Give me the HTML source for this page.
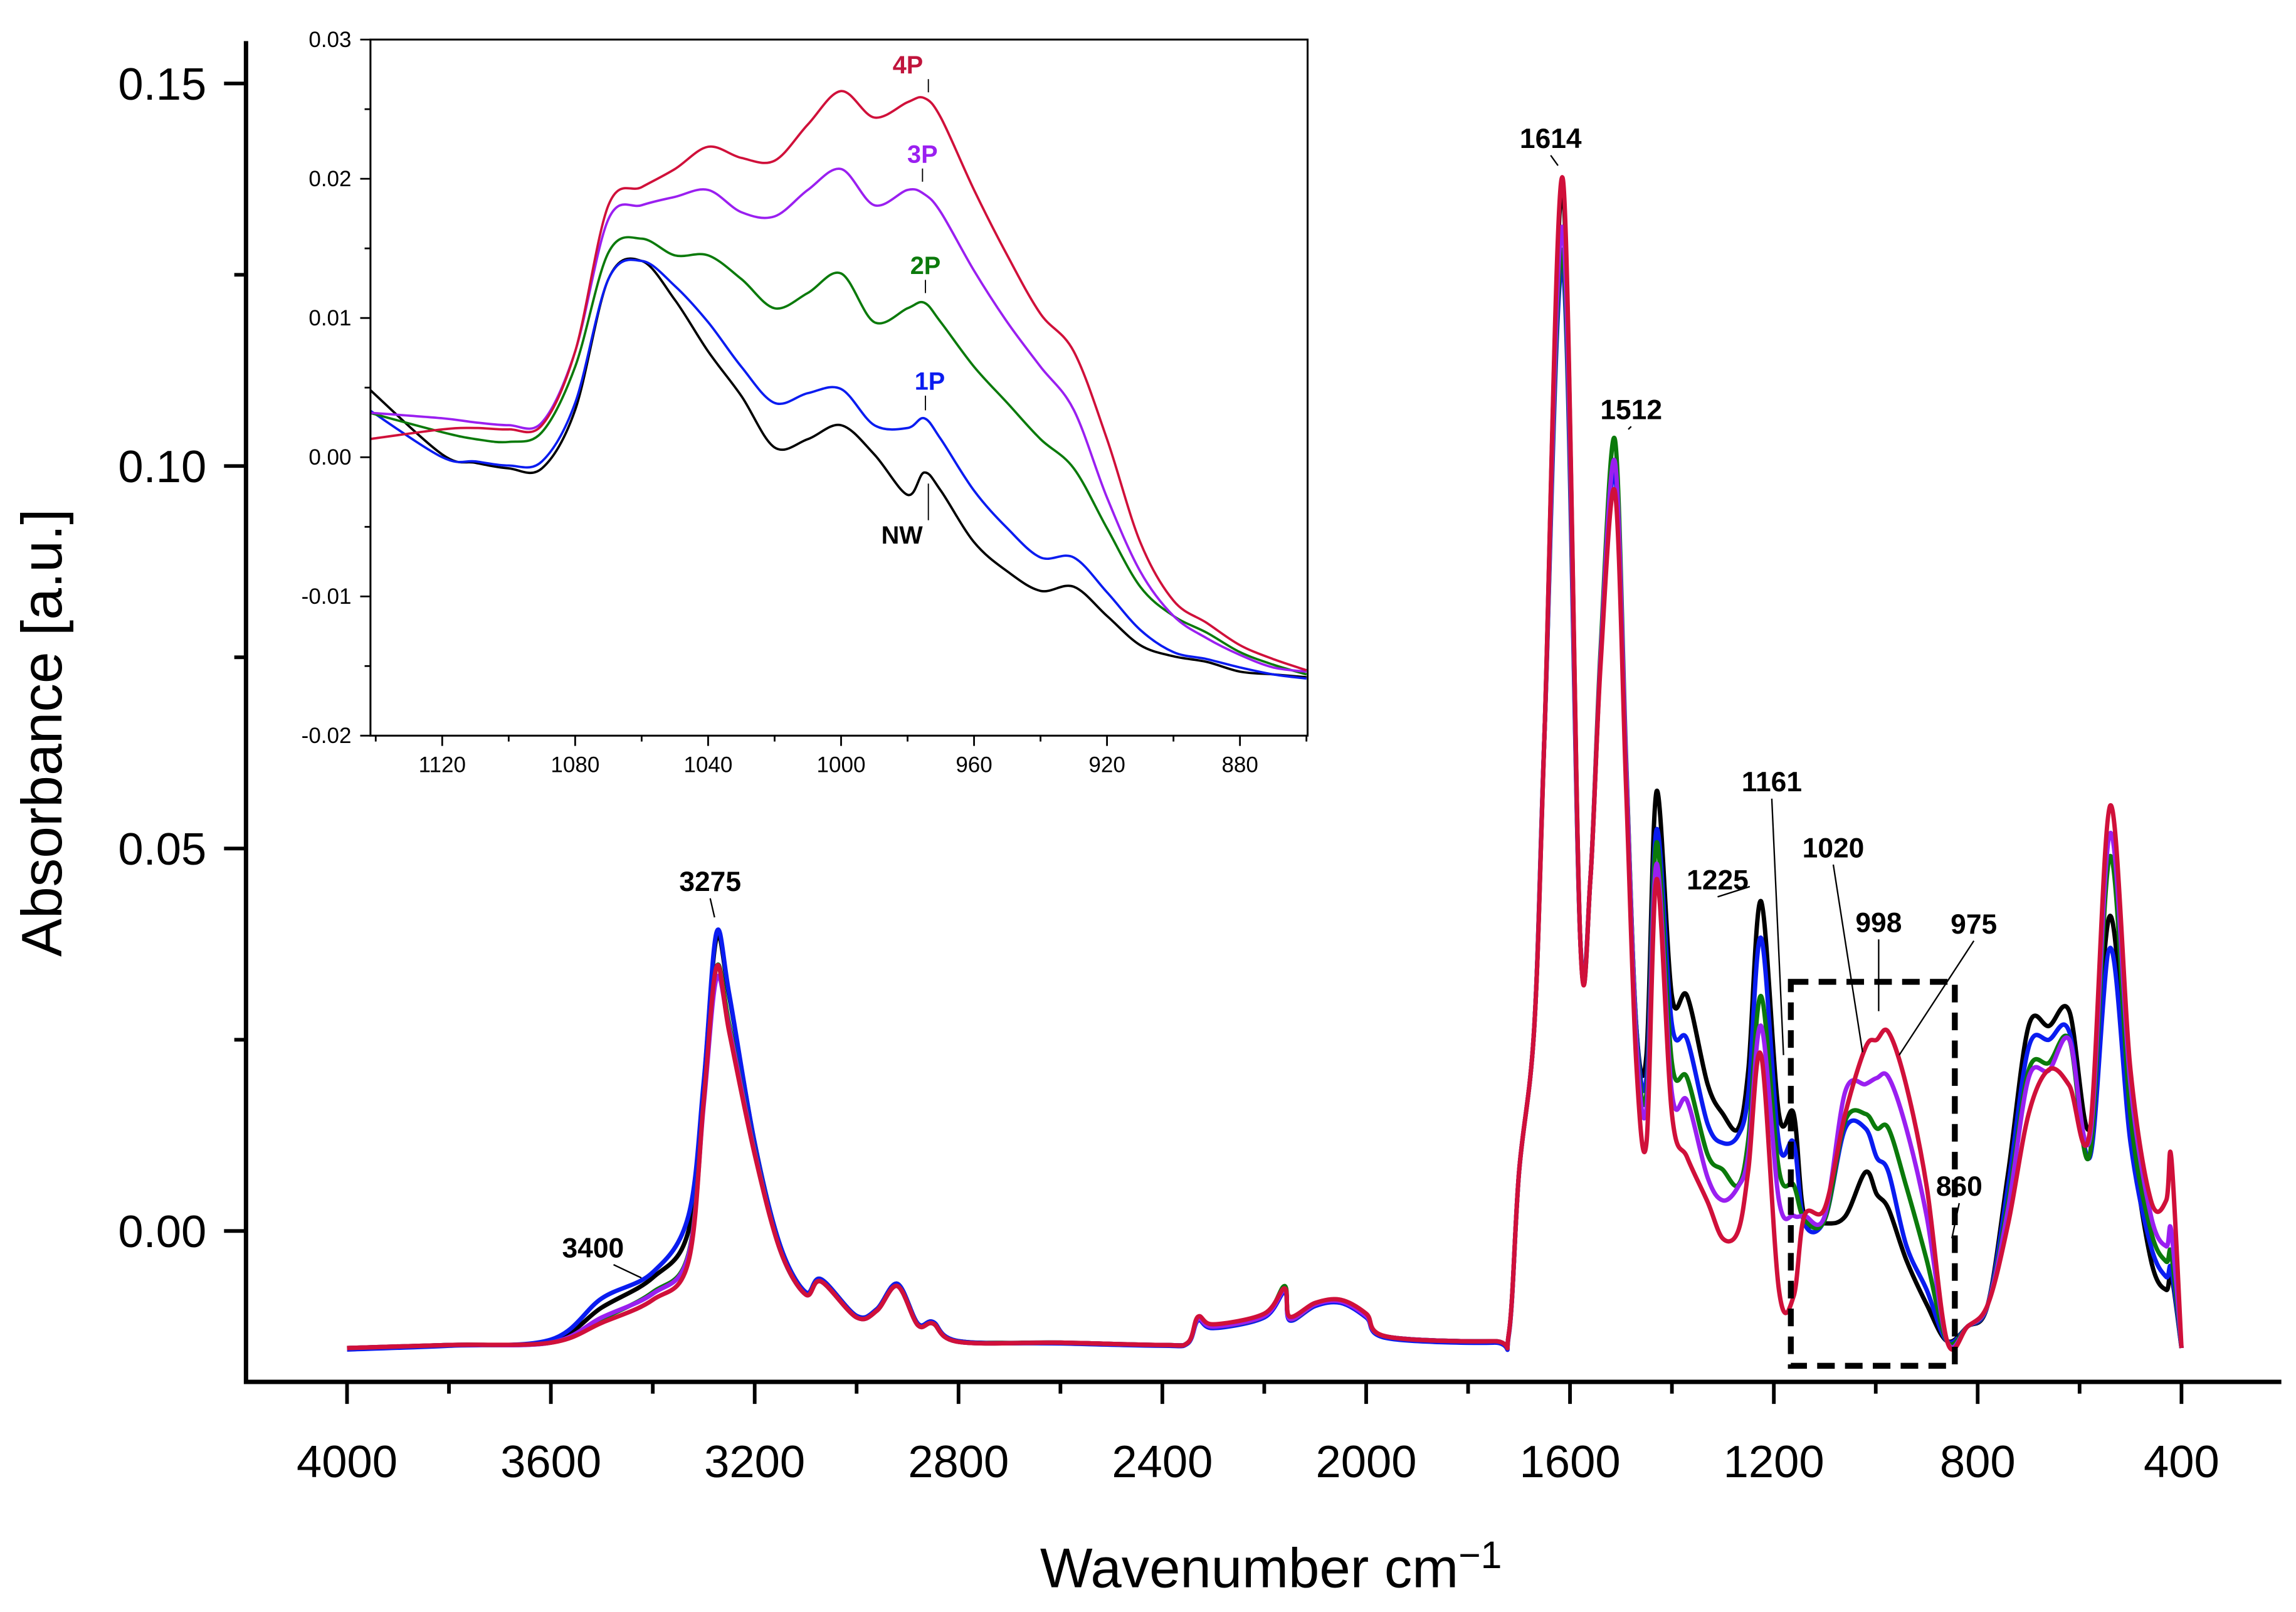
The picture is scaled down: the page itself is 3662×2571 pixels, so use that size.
<!DOCTYPE html>
<html><head><meta charset="utf-8"><style>
html,body{margin:0;padding:0;background:#fff}
svg{display:block;font-family:"Liberation Sans",Arial,sans-serif}
</style></head><body>
<svg id="chart" width="3662" height="2571" viewBox="0 0 1568 1100" preserveAspectRatio="none" xmlns="http://www.w3.org/2000/svg">
<rect x="0" y="0" width="1568" height="1100" fill="#fff"/>
<g id="main"></g>
<g id="inset"></g>
</svg>
<script>
const NS="http://www.w3.org/2000/svg";
// ---- main chart data ----
const wn=[4000,3800,3600,3500,3400,3330,3300,3275,3250,3200,3150,3100,3070,3000,2960,2920,2880,2850,2800,2600,2400,2350,2330,2300,2200,2160,2150,2100,2050,2000,1960,1750,1720,1700,1670,1650,1614,1580,1560,1540,1512,1490,1470,1450,1430,1400,1370,1330,1300,1270,1250,1225,1190,1161,1140,1100,1060,1020,998,975,940,900,860,820,780,740,700,660,620,580,540,500,460,430,420,400];
const nwVals=[-0.0153,-0.0149,-0.0144,-0.0100,-0.0061,0,0.0192,0.0383,0.0307,0.0115,-0.0019,-0.0080,-0.0063,-0.0111,-0.0102,-0.0069,-0.0121,-0.0119,-0.0144,-0.0146,-0.0149,-0.0146,-0.0115,-0.0125,-0.0111,-0.0077,-0.0115,-0.0096,-0.0092,-0.0111,-0.0138,-0.0144,-0.0134,0.0077,0.0268,0.0651,0.1360,0.0383,0.0460,0.0747,0.0996,0.0613,0.0268,0.0230,0.0575,0.0307,0.0307,0.0192,0.0153,0.0134,0.0211,0.0431,0.0153,0.0153,0.0019,0.0010,0.0019,0.0077,0.0048,0.0029,-0.0038,-0.0096,-0.0144,-0.0125,-0.0096,0.0077,0.0268,0.0268,0.0287,0.0134,0.0412,0.0134,-0.0038,-0.0077,-0.0057,-0.0153];
const p1Vals=[-0.0155,-0.0150,-0.0142,-0.0088,-0.0054,0.0020,0.0195,0.0390,0.0310,0.0115,-0.0019,-0.0080,-0.0063,-0.0111,-0.0102,-0.0069,-0.0121,-0.0119,-0.0144,-0.0147,-0.0150,-0.0147,-0.0117,-0.0127,-0.0113,-0.0080,-0.0117,-0.0098,-0.0094,-0.0113,-0.0140,-0.0146,-0.0136,0.0077,0.0268,0.0651,0.1260,0.0383,0.0460,0.0747,0.0990,0.0600,0.0268,0.0200,0.0525,0.0270,0.0250,0.0140,0.0115,0.0125,0.0180,0.0383,0.0115,0.0115,0.0010,0.0015,0.0134,0.0134,0.0096,0.0077,-0.0019,-0.0077,-0.0144,-0.0125,-0.0096,0.0060,0.0240,0.0250,0.0260,0.0096,0.0370,0.0115,-0.0020,-0.0060,-0.0050,-0.0153];
const p2Vals=[-0.0153,-0.0149,-0.0146,-0.0115,-0.0080,-0.0030,0.0170,0.0345,0.0270,0.0105,-0.0025,-0.0083,-0.0066,-0.0113,-0.0104,-0.0072,-0.0123,-0.0121,-0.0145,-0.0146,-0.0149,-0.0146,-0.0115,-0.0125,-0.0111,-0.0072,-0.0115,-0.0096,-0.0090,-0.0111,-0.0138,-0.0144,-0.0134,0.0077,0.0268,0.0651,0.1280,0.0383,0.0460,0.0760,0.1035,0.0620,0.0260,0.0180,0.0508,0.0220,0.0200,0.0100,0.0080,0.0060,0.0120,0.0307,0.0080,0.0060,0.0015,0.0015,0.0144,0.0153,0.0134,0.0134,0.0058,-0.0038,-0.0144,-0.0125,-0.0096,0.0040,0.0210,0.0220,0.0250,0.0100,0.0490,0.0150,0.0000,-0.0040,-0.0030,-0.0153];
const p3Vals=[-0.0153,-0.0149,-0.0146,-0.0113,-0.0082,-0.0032,0.0165,0.0330,0.0265,0.0103,-0.0025,-0.0083,-0.0066,-0.0113,-0.0104,-0.0072,-0.0123,-0.0121,-0.0145,-0.0146,-0.0149,-0.0146,-0.0115,-0.0125,-0.0111,-0.0077,-0.0115,-0.0096,-0.0092,-0.0111,-0.0138,-0.0144,-0.0134,0.0077,0.0268,0.0651,0.1310,0.0383,0.0460,0.0750,0.1006,0.0610,0.0250,0.0160,0.0480,0.0180,0.0170,0.0070,0.0040,0.0058,0.0100,0.0268,0.0040,0.0020,0.0020,0.0020,0.0182,0.0192,0.0200,0.0201,0.0134,0.0019,-0.0144,-0.0125,-0.0096,0.0030,0.0200,0.0210,0.0250,0.0120,0.0520,0.0190,0.0020,-0.0020,0.0000,-0.0153];
const p4Vals=[-0.0153,-0.0149,-0.0146,-0.0120,-0.0090,-0.0040,0.0170,0.0345,0.0260,0.0100,-0.0025,-0.0083,-0.0066,-0.0113,-0.0104,-0.0072,-0.0123,-0.0121,-0.0145,-0.0146,-0.0149,-0.0146,-0.0112,-0.0122,-0.0108,-0.0075,-0.0112,-0.0094,-0.0090,-0.0108,-0.0138,-0.0144,-0.0134,0.0077,0.0268,0.0651,0.1375,0.0383,0.0460,0.0740,0.0967,0.0580,0.0220,0.0115,0.0460,0.0153,0.0096,0.0038,-0.0010,0.0000,0.0080,0.0230,-0.0077,-0.0085,0.0020,0.0030,0.0153,0.0240,0.0250,0.0260,0.0190,0.0058,-0.0144,-0.0125,-0.0096,0.0010,0.0153,0.0211,0.0190,0.0130,0.0556,0.0210,0.0040,0.0040,0.0096,-0.0153];
const xTicks=[4000,3600,3200,2800,2400,2000,1600,1200,800,400];
const yTicks=[0.15,0.10,0.05,0.00];
const yTickLabels=["0.15","0.10","0.05","0.00"];
// ---- inset data ----
const iwn=[1142,1120,1110,1100,1090,1080,1070,1060,1050,1040,1030,1020,1010,1000,990,980,975,970,960,950,940,930,920,910,900,890,880,870,860];
const iNW=[0.0049,0.0002,-0.0004,-0.0008,-0.0008,0.0034,0.0128,0.0141,0.0113,0.0076,0.0044,0.0007,0.0013,0.0023,0.0002,-0.0027,-0.0011,-0.0024,-0.0061,-0.0082,-0.0096,-0.0093,-0.0114,-0.0135,-0.0143,-0.0147,-0.0154,-0.0156,-0.0158];
const i1P=[0.0034,0,-0.0003,-0.0006,-0.0003,0.0039,0.0128,0.0141,0.0123,0.0097,0.0065,0.0039,0.0046,0.0049,0.0023,0.0021,0.0028,0.0013,-0.0024,-0.0051,-0.0072,-0.0072,-0.0097,-0.0124,-0.0140,-0.0145,-0.0151,-0.0156,-0.0159];
const i2P=[0.0032,0.0018,0.0013,0.0011,0.0018,0.0065,0.0147,0.0157,0.0145,0.0145,0.0128,0.0107,0.0118,0.0132,0.0097,0.0107,0.0111,0.0097,0.0065,0.0039,0.0013,-0.0008,-0.0051,-0.0093,-0.0114,-0.0126,-0.0140,-0.0149,-0.0156];
const i3P=[0.0032,0.0028,0.0025,0.0023,0.0025,0.0076,0.0171,0.0181,0.0187,0.0192,0.0176,0.0173,0.0192,0.0207,0.0181,0.0192,0.0189,0.0176,0.0134,0.0097,0.0065,0.0034,-0.0029,-0.0082,-0.0114,-0.0130,-0.0142,-0.0151,-0.0154];
const i4P=[0.0013,0.0020,0.0021,0.0020,0.0023,0.0076,0.0181,0.0194,0.0207,0.0223,0.0215,0.0213,0.0239,0.0263,0.0244,0.0255,0.0258,0.0244,0.0192,0.0145,0.0103,0.0076,0.0013,-0.0061,-0.0103,-0.0119,-0.0135,-0.0145,-0.0153];
const ixTicks=[1120,1080,1040,1000,960,920,880];
const iyTicks=[0.03,0.02,0.01,0.00,-0.01,-0.02];
const iyTickLabels=["0.03","0.02","0.01","0.00","-0.01","-0.02"];

function el(parent,tag,attrs,text){const e=document.createElementNS(NS,tag);for(const k in attrs)e.setAttribute(k,attrs[k]);if(text!==undefined)e.textContent=text;parent.appendChild(e);return e;}
function smooth(pts){let d="M"+pts[0][0].toFixed(2)+","+pts[0][1].toFixed(2);for(let i=0;i<pts.length-1;i++){const p0=pts[Math.max(0,i-1)],p1=pts[i],p2=pts[i+1],p3=pts[Math.min(pts.length-1,i+2)];const c1x=p1[0]+(p2[0]-p0[0])/6,c1y=p1[1]+(p2[1]-p0[1])/6,c2x=p2[0]-(p3[0]-p1[0])/6,c2y=p2[1]-(p3[1]-p1[1])/6;d+=" C"+c1x.toFixed(2)+","+c1y.toFixed(2)+" "+c2x.toFixed(2)+","+c2y.toFixed(2)+" "+p2[0].toFixed(2)+","+p2[1].toFixed(2);}return d;}

// main axes
const X=w=>237+(4000-w)/400*139.2;
const Y=v=>840-v/0.05*261;
const main=document.getElementById('main');
const series=[["series-nw",nwVals,"#000000"],["series-1p",p1Vals,"#0a1cf0"],["series-2p",p2Vals,"#0b7a0b"],["series-3p",p3Vals,"#9a1ff0"],["series-4p",p4Vals,"#d0103a"]];
series.forEach(s=>{const pts=wn.map((w,i)=>[X(w),Y(s[1][i])]);const p=el(main,'path',{d:smooth(pts),fill:'none',stroke:s[2],'stroke-width':3,'stroke-linejoin':'round'});

});
let a=el(main,'line',{x1:168,y1:943,x2:1558,y2:943,stroke:'#000','stroke-width':3});


a=el(main,'line',{x1:168,y1:28,x2:168,y2:944.5,stroke:'#000','stroke-width':3});


for(let w=4200;w>=200;w-=200){const x=X(w);if(x<168||x>1558)continue;el(main,'line',{x1:x,y1:943,x2:x,y2:w%400===0?958:951,stroke:'#000','stroke-width':2.5});}
xTicks.forEach(w=>{const t=el(main,'text',{x:X(w),y:1008,'font-size':31,'text-anchor':'middle'},String(w));

});
for(let k=0;k<=7;k++){const v=k*0.025;const y=Y(v);if(y<28)continue;el(main,'line',{x1:168,y1:y,x2:k%2===0?153:160,y2:y,stroke:'#000','stroke-width':2.5});}
yTicks.forEach((v,i)=>{const t=el(main,'text',{x:141,y:Y(v)+11,'font-size':31,'text-anchor':'end'},yTickLabels[i]);

});
let t=el(main,'text',{x:868,y:1083,'font-size':38,'text-anchor':'middle'},'Wavenumber cm');


el(t,'tspan',{dy:-13,'font-size':26},'−1');
t=el(main,'text',{x:42,y:500,'font-size':39,'text-anchor':'middle',transform:'rotate(-90 42 500)'},'Absorbance [a.u.]');


const ann=[["3275",485,608,488,626],["3400",405,858,438,872],["1614",1059,101,1064,113],["1512",1114,286,1112,293],["1225",1173,607,1195,605],["1161",1210,540,1218,720],["1020",1252,585,1272,718],["998",1283,636,1283,690],["975",1348,637,1297,720],["860",1338,816,1333,845]];
ann.forEach(a=>{const g=el(main,'g',{});


el(g,'text',{x:a[1],y:a[2],'font-size':19,'font-weight':'bold','text-anchor':'middle'},a[0]);
el(g,'line',{x1:a[1]+(a[3]>a[1]+25?14:0),y1:a[2]+5,x2:a[3],y2:a[4],stroke:'#000','stroke-width':1});});
const box=el(main,'rect',{x:1223,y:670,width:112,height:262,fill:'none',stroke:'#000','stroke-width':4,'stroke-dasharray':'12,7'});



// inset
const inset=document.getElementById('inset');
const IX=w=>302+(1120-w)/40*90.8;
const IY=v=>312-v/0.01*95;
el(inset,'rect',{x:253,y:27,width:640,height:475,fill:'#fff'});
el(inset,'clipPath',{id:'ic'});
el(document.getElementById('ic'),'rect',{x:253,y:27,width:640,height:475});
const iser=[["inset-series-nw",iNW,"#000000"],["inset-series-1p",i1P,"#0a1cf0"],["inset-series-2p",i2P,"#0b7a0b"],["inset-series-3p",i3P,"#9a1ff0"],["inset-series-4p",i4P,"#d0103a"]];
iser.forEach(s=>{const pts=iwn.map((w,i)=>[IX(w),IY(s[1][i])]);const p=el(inset,'path',{d:smooth(pts),fill:'none',stroke:s[2],'stroke-width':1.6,'clip-path':'url(#ic)'});

});
const fr=el(inset,'rect',{x:253,y:27,width:640,height:475,fill:'none',stroke:'#000','stroke-width':1.3});


for(let w=1140;w>=860;w-=20){const x=IX(w);if(x<253||x>893)continue;el(inset,'line',{x1:x,y1:502,x2:x,y2:w%40===0?509:506,stroke:'#000','stroke-width':1.2});}
ixTicks.forEach(w=>{const t=el(inset,'text',{x:IX(w),y:527,'font-size':15,'text-anchor':'middle'},String(w));

});
for(let k=-4;k<=6;k++){const v=k*0.005;const y=IY(v);el(inset,'line',{x1:253,y1:y,x2:k%2===0?246:249,y2:y,stroke:'#000','stroke-width':1.2});}
iyTicks.forEach((v,i)=>{const t=el(inset,'text',{x:240,y:IY(v)+5,'font-size':15,'text-anchor':'end'},iyTickLabels[i]);

});
const il=[["4P",620,50,"#c0143c",634,63],["3P",630,111,"#9a1ff0",630,124],["2P",632,187,"#0b7a0b",632,200],["1P",635,266,"#0a1cf0",632,280],["NW",616,371,"#000",634,330]];
il.forEach(l=>{const g=el(inset,'g',{});


el(g,'text',{x:l[1],y:l[2],'font-size':17,'font-weight':'bold','text-anchor':'middle',fill:l[3]},l[0]);
el(g,'line',{x1:l[4],y1:l[0]==="NW"?l[2]-16:l[2]+4,x2:l[4],y2:l[5],stroke:'#000','stroke-width':0.8});});
</script>
</body></html>
